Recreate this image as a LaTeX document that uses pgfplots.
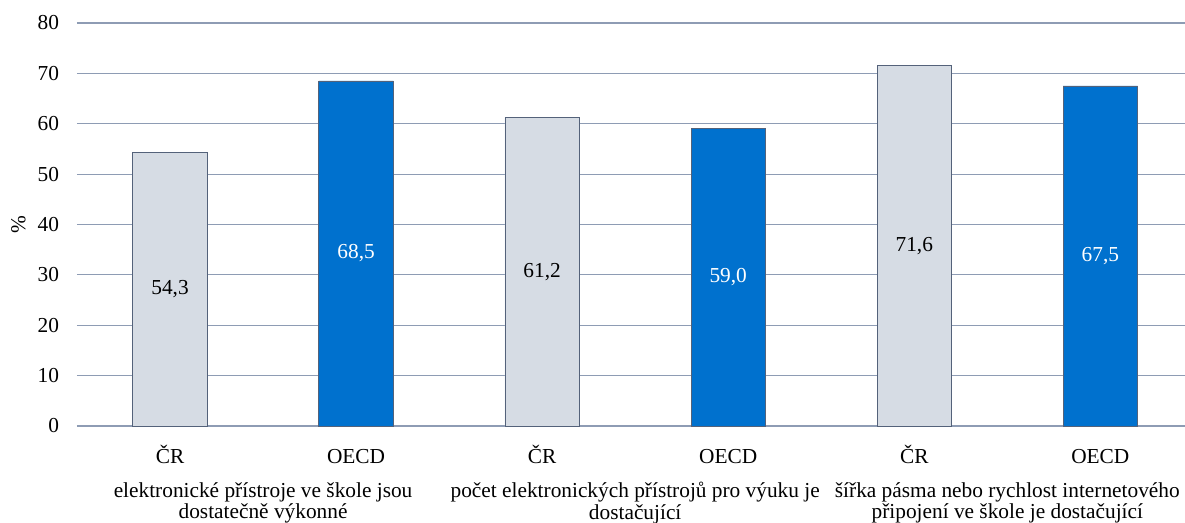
\documentclass[border=0pt]{standalone}
\usepackage{pgfplots}
\pgfplotsset{compat=1.18}
\usepackage{fontspec}
\setmainfont{Liberation Serif}
\definecolor{barGray}{RGB}{214,220,228}
\definecolor{barBlue}{RGB}{0,113,206}
\definecolor{edgeC}{RGB}{84,98,122}
\definecolor{gridC}{RGB}{142,156,180}
\begin{document}
\fontsize{16}{18}\selectfont
\begin{tikzpicture}[x=0.75pt,y=0.75pt]
\useasboundingbox (-77,-96) rectangle (1108,426);
\begin{axis}[
  at={(0,0)}, anchor=south west,
  scale only axis,
  width=831pt, height=302.25pt,
  xmin=-0.5, xmax=5.455,
  ymin=0, ymax=80,
  ytick={0,10,...,80},
  xtick={0,1,2,3,4,5},
  xticklabels={ČR,OECD,ČR,OECD,ČR,OECD},
  ymajorgrids,
  grid style={gridC, line width=0.9pt},
  axis line style={draw=none},
  major tick style={draw=none},
  ybar, bar shift=0pt, bar width=0.4,
  ylabel={\%},
  ylabel style={at={(rel axis cs:0,0.5)}, anchor=center, yshift=44pt, font=\fontsize{16}{18}\selectfont},
  yticklabel style={/pgf/number format/assume math mode=true, xshift=-8pt, font=\fontsize{16}{18}\selectfont},
  xticklabel style={yshift=-4pt, text height=14pt, text depth=3pt, font=\fontsize{16}{18}\selectfont},
  /pgf/number format/assume math mode=true,
  clip=false,
  nodes near coords={\pgfmathprintnumber[fixed, fixed zerofill, precision=1, use comma]{\pgfplotspointmeta}},
  visualization depends on={rawy/2 \as \halfy},
  every node near coord/.append style={anchor=center, shift={(axis direction cs:0,-\halfy)}, font=\fontsize{16}{18}\selectfont},
]
\addplot[fill=barGray, draw=edgeC, line width=0.6pt, nodes near coords style={text=black}] coordinates {(0,54.3) (2,61.2) (4,71.6)};
\addplot[fill=barBlue, draw=edgeC, line width=0.6pt, nodes near coords style={text=white}] coordinates {(1,68.5) (3,59.0) (5,67.5)};
\node[align=center, anchor=north, inner sep=0pt, font=\fontsize{16}{16}\selectfont] at (axis cs:0.5,0) [yshift=-42pt] {elektronické přístroje ve škole jsou\\dostatečně výkonné};
\node[align=center, anchor=north, inner sep=0pt, font=\fontsize{16}{16}\selectfont] at (axis cs:2.5,0) [yshift=-42pt] {počet elektronických přístrojů pro výuku je\\dostačující};
\node[align=center, anchor=north, inner sep=0pt, font=\fontsize{16}{16}\selectfont] at (axis cs:4.5,0) [yshift=-42pt] {šířka pásma nebo rychlost internetového\\připojení ve škole je dostačující};
\end{axis}
\end{tikzpicture}
\end{document}
